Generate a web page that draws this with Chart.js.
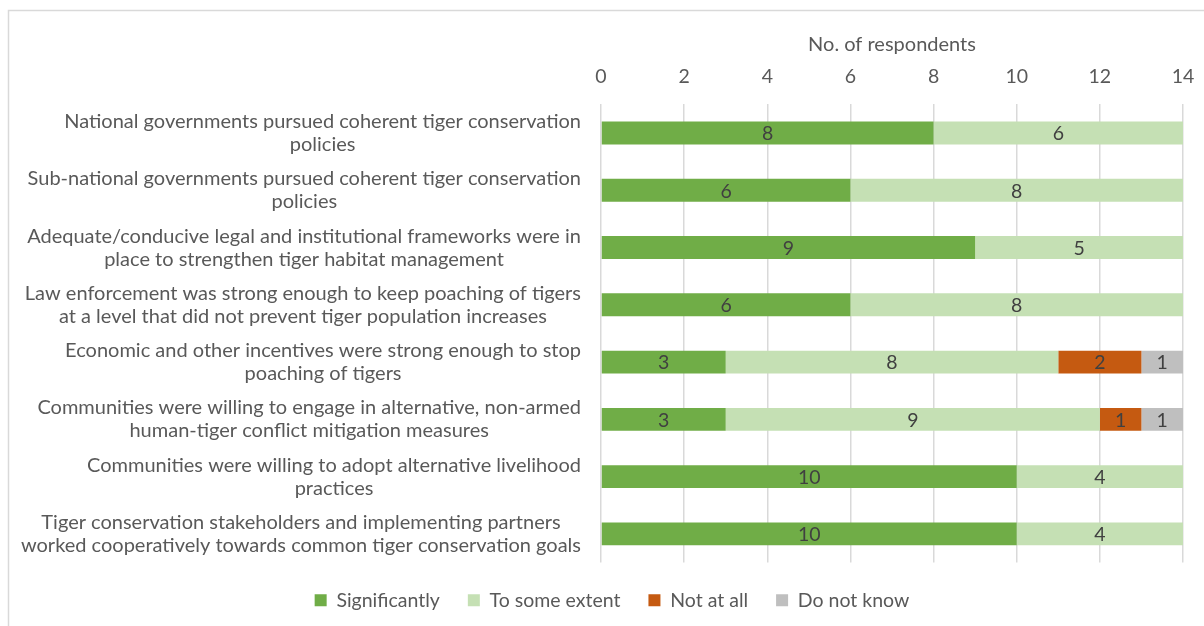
<!DOCTYPE html>
<html>
<head>
<meta charset="utf-8">
<script src="https://cdn.jsdelivr.net/npm/chart.js@4/dist/chart.umd.min.js"></script>
<style>
html,body{margin:0;padding:0;background:#fff;}
#wrap{position:absolute;left:0;top:0;width:1204px;height:626px;}
</style>
</head>
<body>
<div id="wrap"><canvas id="c" width="1204" height="626"></canvas></div>
<script>
const categories = [
  ["National governments pursued coherent tiger conservation", "policies"],
  ["Sub-national governments pursued coherent tiger conservation", "policies"],
  ["Adequate/conducive legal and institutional frameworks were in", "place to strengthen tiger habitat management"],
  ["Law enforcement was strong enough to keep poaching of tigers", "at a level that did not prevent tiger population increases"],
  ["Economic and other incentives were strong enough to stop", "poaching of tigers"],
  ["Communities were willing to engage in alternative, non-armed", "human-tiger conflict mitigation measures"],
  ["Communities were willing to adopt alternative livelihood", "practices"],
  ["Tiger conservation stakeholders and implementing partners", "worked cooperatively towards common tiger conservation goals"]
];
const significantly = [8, 6, 9, 6, 3, 3, 10, 10];
const toSomeExtent = [6, 8, 5, 8, 8, 9, 4, 4];
const notAtAll = [0, 0, 0, 0, 2, 1, 0, 0];
const doNotKnow = [0, 0, 0, 0, 1, 1, 0, 0];
const seriesNames = ["Significantly", "To some extent", "Not at all", "Do not know"];
const xTicks = [0, 2, 4, 6, 8, 10, 12, 14];

const FONT = "Lato";
const TEXT = "#595959";
const PAD_LEFT = 41;

const borderPlugin = {
  id: 'frame',
  beforeDraw(chart) {
    const ctx = chart.ctx;
    ctx.save();
    ctx.strokeStyle = '#D9D9D9';
    ctx.lineWidth = 1.5;
    ctx.beginPath();
    ctx.moveTo(8.5, 626);
    ctx.lineTo(8.5, 10.5);
    ctx.lineTo(1204, 10.5);
    ctx.stroke();
    ctx.restore();
  }
};

const catLabelPlugin = {
  id: 'catLabels',
  afterDraw(chart) {
    const ctx = chart.ctx;
    const y = chart.scales.y;
    const right = chart.chartArea.left - 20;
    ctx.save();
    ctx.font = '20px ' + FONT;
    ctx.fillStyle = TEXT;
    ctx.textAlign = 'center';
    ctx.textBaseline = 'middle';
    categories.forEach((lines, i) => {
      const cy = y.getPixelForTick(i);
      const w = Math.max(...lines.map(l => ctx.measureText(l).width));
      const cx = right - w / 2;
      const lh = 23;
      lines.forEach((l, k) => {
        ctx.fillText(l, cx, cy + (k - (lines.length - 1) / 2) * lh);
      });
    });
    ctx.restore();
  }
};

const valueLabelPlugin = {
  id: 'valueLabels',
  afterDatasetsDraw(chart) {
    const ctx = chart.ctx;
    ctx.save();
    ctx.font = '19.5px ' + FONT;
    ctx.fillStyle = '#404040';
    ctx.textAlign = 'center';
    ctx.textBaseline = 'middle';
    chart.data.datasets.forEach((ds, di) => {
      const meta = chart.getDatasetMeta(di);
      meta.data.forEach((bar, i) => {
        const v = ds.data[i];
        if (!v) return;
        const p = bar.getCenterPoint();
        ctx.fillText(String(v), p.x, p.y + 1);
      });
    });
    ctx.restore();
  }
};

const colors = ['#70AD47', '#C5E0B4', '#C55A11', '#BFBFBF'];
const seriesData = [significantly, toSomeExtent, notAtAll, doNotKnow];

new Chart(document.getElementById('c'), {
  type: 'bar',
  data: {
    labels: categories.map(c => c.join(' ')),
    datasets: seriesData.map((d, i) => ({
      label: seriesNames[i],
      data: d,
      backgroundColor: colors[i],
      borderWidth: 0,
      barPercentage: 0.4,
      categoryPercentage: 1.0
    }))
  },
  options: {
    indexAxis: 'y',
    responsive: false,
    animation: false,
    devicePixelRatio: 1,
    layout: { padding: { left: PAD_LEFT, right: 21, top: 33, bottom: 6 } },
    scales: {
      x: {
        position: 'top',
        stacked: true,
        min: 0,
        max: 14,
        afterBuildTicks: (s) => { s.ticks = xTicks.map(v => ({ value: v })); },
        grid: { color: '#D9D9D9', lineWidth: 1.5, drawTicks: true, tickLength: 11, tickColor: 'rgba(0,0,0,0)' },
        border: { display: false },
        ticks: { color: TEXT, font: { family: FONT, size: 19.5 }, padding: 5 },
        title: { display: true, text: 'No. of respondents', color: TEXT, font: { family: FONT, size: 20 }, padding: { top: 0, bottom: 3 } }
      },
      y: {
        stacked: true,
        grid: { display: false, drawTicks: false },
        border: { display: false },
        ticks: { display: false },
        afterFit: (s) => { s.width = 601 - PAD_LEFT; }
      }
    },
    plugins: {
      legend: {
        position: 'bottom',
        labels: {
          color: TEXT,
          font: { family: FONT, size: 19.5 },
          boxWidth: 12,
          boxHeight: 12,
          padding: 28
        }
      },
      tooltip: { enabled: false }
    }
  },
  plugins: [borderPlugin, catLabelPlugin, valueLabelPlugin]
});
</script>
</body>
</html>
